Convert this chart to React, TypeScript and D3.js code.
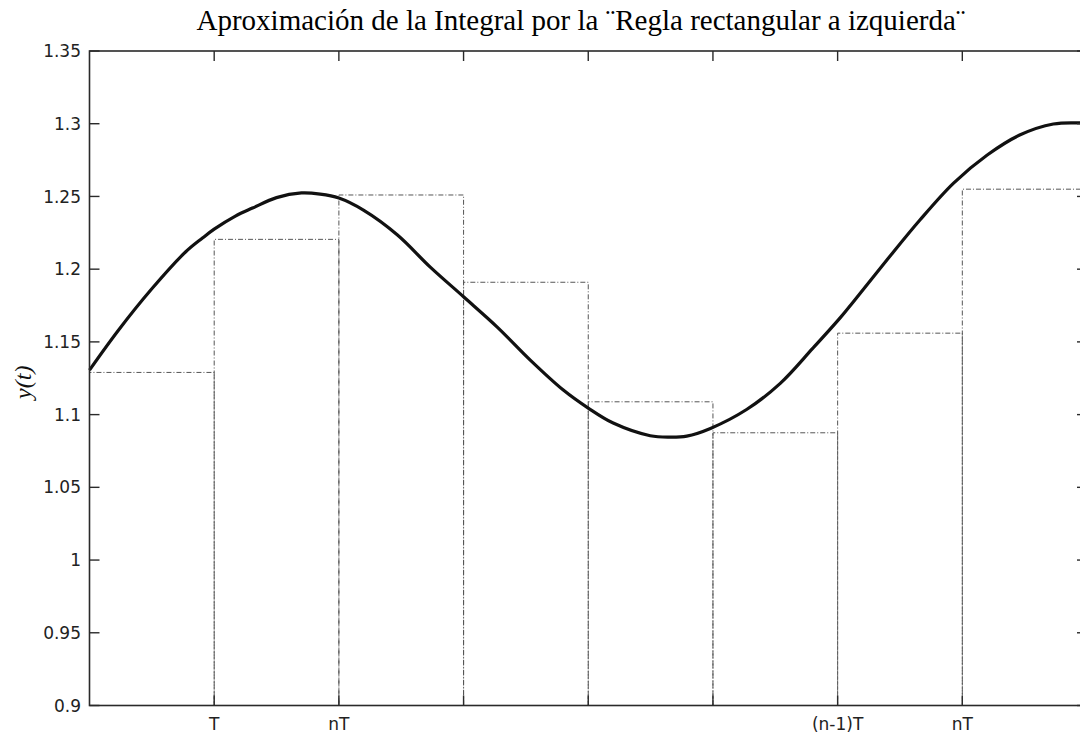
import React from "react";
import * as d3 from "d3";

const title = "Aproximación de la Integral por la ¨Regla rectangular a izquierda¨";
const yLabel = "y(t)";

const yTicks = [0.9, 0.95, 1.0, 1.05, 1.1, 1.15, 1.2, 1.25, 1.3, 1.35];
const yTickLabels = ["0.9", "0.95", "1", "1.05", "1.1", "1.15", "1.2", "1.25", "1.3", "1.35"];

const xTicks = [1, 2, 3, 4, 5, 6, 7];
const xTickLabels = ["T", "nT", "", "", "", "(n-1)T", "nT"];

// left-rule rectangle heights, one per interval [k, k+1]
const rectHeights = [1.129, 1.2205, 1.251, 1.191, 1.1088, 1.0875, 1.156, 1.255];

// continuous curve y(t)
const curveT = [0, 0.232, 0.505, 0.77, 0.906, 1.0, 1.17, 1.307, 1.5, 1.7, 1.85, 2.0, 2.197, 2.47, 2.733, 3.0, 3.27, 3.535, 3.8, 4.0, 4.2, 4.497, 4.65, 4.79, 4.98, 5.27, 5.54, 5.8, 6.02, 6.125, 6.395, 6.66, 6.93, 7.2, 7.46, 7.73, 7.95, 8.0];
const curveY = [1.1306, 1.158, 1.187, 1.2118, 1.2214, 1.2275, 1.2365, 1.242, 1.2492, 1.2524, 1.2516, 1.2489, 1.2406, 1.2235, 1.2014, 1.181, 1.1602, 1.1375, 1.1169, 1.1045, 1.0942, 1.0855, 1.0845, 1.0852, 1.0905, 1.1035, 1.1215, 1.1455, 1.1665, 1.1775, 1.2063, 1.2338, 1.2592, 1.2785, 1.2922, 1.2998, 1.3005, 1.3];

const W = 1080;
const H = 738;
const left = 89.5;
const right = 1087;
const top = 51;
const bottom = 705.5;

export default function App() {
  const x = d3.scaleLinear().domain([0, 8]).range([left, right]);
  const y = d3.scaleLinear().domain([0.9, 1.35]).range([bottom, top]);

  const line = d3
    .line<number>()
    .x((_, i) => x(curveT[i]))
    .y((d) => y(d))
    .curve(d3.curveCatmullRom.alpha(0.5));

  const dash = "5,2,1,2";
  const rectColor = "#555";
  const axisColor = "#2a2a2a";
  const tickLen = 10;
  const sans = "'DejaVu Sans', Verdana, sans-serif";

  return (
    <svg
      width={W}
      height={H}
      style={{ position: "absolute", left: 0, top: 0, background: "#fff" }}
    >
      <rect x={0} y={0} width={W} height={H} fill="#fff" />
      <text
        x={581}
        y={30}
        textAnchor="middle"
        fontFamily="'Liberation Serif', 'DejaVu Serif', serif"
        fontSize={29}
        fill="#000"
      >
        {title}
      </text>

      {/* rectangles (left rule) */}
      {rectHeights.map((h, i) => (
        <path
          key={"r" + i}
          d={`M${x(i)},${y(0.9)}V${y(h)}H${x(i + 1)}V${y(0.9)}`}
          fill="none"
          stroke={rectColor}
          strokeWidth={1}
          strokeDasharray={dash}
        />
      ))}

      {/* curve */}
      <path
        d={line(curveY) || ""}
        fill="none"
        stroke="#111"
        strokeWidth={3.2}
        strokeLinejoin="round"
      />

      {/* axes box */}
      <rect
        x={left}
        y={top}
        width={right - left}
        height={bottom - top}
        fill="none"
        stroke={axisColor}
        strokeWidth={1.6}
      />

      {/* y ticks */}
      {yTicks.map((v, i) => (
        <g key={"y" + i}>
          <line x1={left} x2={left + tickLen} y1={y(v)} y2={y(v)} stroke={axisColor} strokeWidth={1.4} />
          <line x1={right - tickLen} x2={right} y1={y(v)} y2={y(v)} stroke={axisColor} strokeWidth={1.4} />
          <text
            x={81}
            y={y(v)}
            dy="0.36em"
            textAnchor="end"
            fontFamily={sans}
            fontSize={17}
            fill="#222"
          >
            {yTickLabels[i]}
          </text>
        </g>
      ))}

      {/* x ticks */}
      {xTicks.map((v, i) => (
        <g key={"x" + i}>
          <line x1={x(v)} x2={x(v)} y1={top} y2={top + tickLen} stroke={axisColor} strokeWidth={1.4} />
          <line x1={x(v)} x2={x(v)} y1={bottom} y2={bottom - tickLen} stroke={axisColor} strokeWidth={1.4} />
          <text
            x={x(v)}
            y={730}
            textAnchor="middle"
            fontFamily={sans}
            fontSize={17}
            fill="#222"
          >
            {xTickLabels[i]}
          </text>
        </g>
      ))}

      {/* y label */}
      <text
        transform={`translate(31,${(top + bottom) / 2 + 4}) rotate(-90)`}
        textAnchor="middle"
        fontFamily="'Liberation Serif', 'DejaVu Serif', serif"
        fontStyle="italic"
        fontSize={24}
        fill="#111"
      >
        {yLabel}
      </text>
    </svg>
  );
}
